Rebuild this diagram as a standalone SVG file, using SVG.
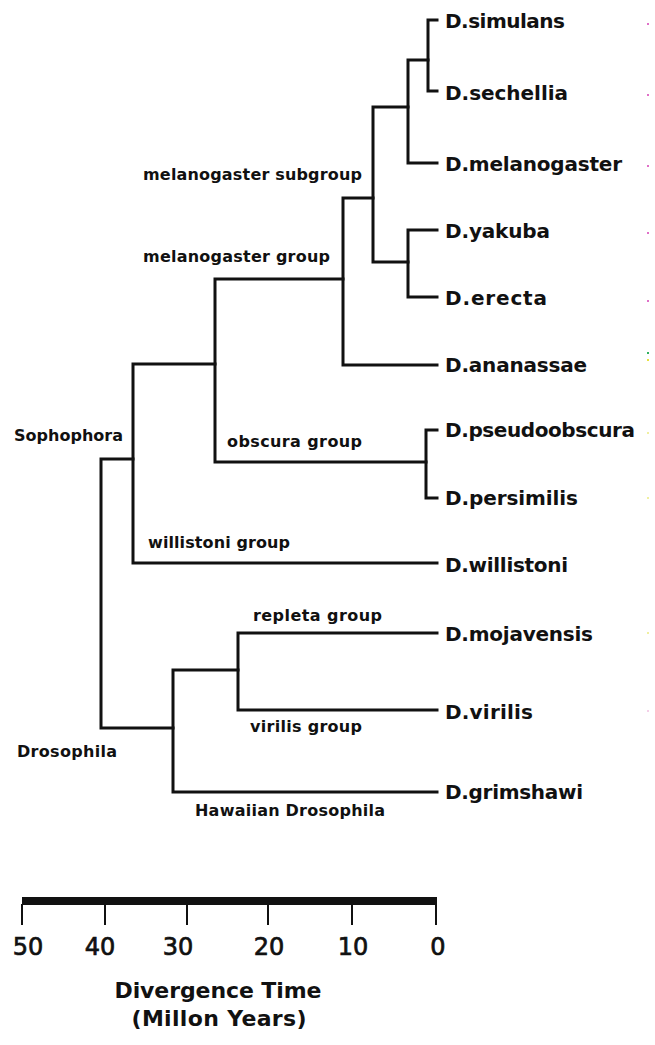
<svg xmlns="http://www.w3.org/2000/svg" width="655" height="1045" viewBox="0 0 655 1045">
<style>
.br{fill:none;stroke:#111;stroke-width:3;stroke-linejoin:miter;stroke-linecap:square}
.sp{font-family:"Comic Sans MS","DejaVu Sans",sans-serif;font-weight:bold;font-size:20px;fill:#111}
.gr{font-family:"Comic Sans MS","DejaVu Sans",sans-serif;font-weight:bold;font-size:16px;fill:#111}
.ax{font-family:"Comic Sans MS","DejaVu Sans",sans-serif;font-size:24px;fill:#111;stroke:#111;stroke-width:0.7;text-anchor:middle}
.tt{font-family:"Comic Sans MS","DejaVu Sans",sans-serif;font-weight:bold;font-size:22px;fill:#111;text-anchor:middle}
.tk{stroke:#111;stroke-width:2}
</style>
<rect width="655" height="1045" fill="#fff"/>
<g id="connectors">
<path class="br" d="M437,20 H428 V91 H437"/>
<path class="br" d="M428,60 H408 V163 H437"/>
<path class="br" d="M437,230 H408 V297 H437"/>
<path class="br" d="M408,107 H373 V262 H408"/>
<path class="br" d="M373,198 H343 V365 H437"/>
<path class="br" d="M343,279 H215 V462 H426"/>
<path class="br" d="M437,430 H426 V498 H437"/>
<path class="br" d="M215,364 H133 V563 H437"/>
<path class="br" d="M133,459 H101 V728 H173"/>
<path class="br" d="M238,670 H173 V792 H437"/>
<path class="br" d="M437,633 H238 V710 H437"/>
</g>
<g id="species">
<text id="n-simulans" class="sp" x="445" y="28" textLength="120">D.simulans</text>
<text id="n-sechellia" class="sp" x="445" y="100" textLength="123">D.sechellia</text>
<text id="n-melanogaster" class="sp" x="445" y="171" textLength="177">D.melanogaster</text>
<text id="n-yakuba" class="sp" x="445" y="238" textLength="105">D.yakuba</text>
<text id="n-erecta" class="sp" x="445" y="305" textLength="102">D.erecta</text>
<text id="n-ananassae" class="sp" x="445" y="372" textLength="142">D.ananassae</text>
<text id="n-pseudoobscura" class="sp" x="445" y="437" textLength="190">D.pseudoobscura</text>
<text id="n-persimilis" class="sp" x="445" y="505" textLength="133">D.persimilis</text>
<text id="n-willistoni" class="sp" x="445" y="572" textLength="123">D.willistoni</text>
<text id="n-mojavensis" class="sp" x="445" y="641" textLength="148">D.mojavensis</text>
<text id="n-virilis" class="sp" x="445" y="719" textLength="88">D.virilis</text>
<text id="n-grimshawi" class="sp" x="445" y="799" textLength="138">D.grimshawi</text>
</g>
<g id="groups">
<text id="g-melsub" class="gr" x="143" y="180" textLength="219">melanogaster subgroup</text>
<text id="g-mel" class="gr" x="143" y="262" textLength="187">melanogaster group</text>
<text id="g-obscura" class="gr" x="227" y="447" textLength="135">obscura group</text>
<text id="g-willistoni" class="gr" x="148" y="548" textLength="142">willistoni group</text>
<text id="g-sophophora" class="gr" x="14" y="441" textLength="109">Sophophora</text>
<text id="g-repleta" class="gr" x="253" y="621" textLength="129">repleta group</text>
<text id="g-virilis" class="gr" x="250" y="732" textLength="112">virilis group</text>
<text id="g-drosophila" class="gr" x="17" y="757" textLength="100">Drosophila</text>
<text id="g-hawaiian" class="gr" x="195" y="816" textLength="190">Hawaiian Drosophila</text>
</g>
<g id="scale">
<rect x="22" y="897" width="415" height="8" fill="#111"/>
<line class="tk" x1="22" y1="904" x2="22" y2="925"/>
<line class="tk" x1="105" y1="904" x2="105" y2="925"/>
<line class="tk" x1="187" y1="904" x2="187" y2="925"/>
<line class="tk" x1="268" y1="904" x2="268" y2="925"/>
<line class="tk" x1="352" y1="904" x2="352" y2="925"/>
<line class="tk" x1="436" y1="904" x2="436" y2="925"/>
<text class="ax" x="28" y="955">50</text>
<text class="ax" x="100" y="955">40</text>
<text class="ax" x="178" y="955">30</text>
<text class="ax" x="269" y="955">20</text>
<text class="ax" x="353" y="955">10</text>
<text class="ax" x="438" y="955">0</text>
<text class="tt" x="218" y="998" textLength="207">Divergence Time</text>
<text class="tt" x="219" y="1026" textLength="175">(Millon Years)</text>
</g>
<g id="marks">
<rect x="647" y="23" width="2" height="2" fill="#e070c8"/>
<rect x="647" y="94" width="2" height="2" fill="#e070c8"/>
<rect x="647" y="165" width="2" height="2" fill="#e070c8"/>
<rect x="647" y="232" width="2" height="2" fill="#e070c8"/>
<rect x="647" y="300" width="2" height="2" fill="#e070c8"/>
<rect x="647" y="352" width="2" height="2" fill="#30b060"/>
<rect x="647" y="359" width="2" height="2" fill="#e8e040"/>
<rect x="647" y="432" width="2" height="2" fill="#f0f0a0"/>
<rect x="647" y="497" width="2" height="2" fill="#f0f0a0"/>
<rect x="647" y="632" width="2" height="2" fill="#f0f0a0"/>
<rect x="647" y="710" width="2" height="2" fill="#f4d0e8"/>
</g>
</svg>
